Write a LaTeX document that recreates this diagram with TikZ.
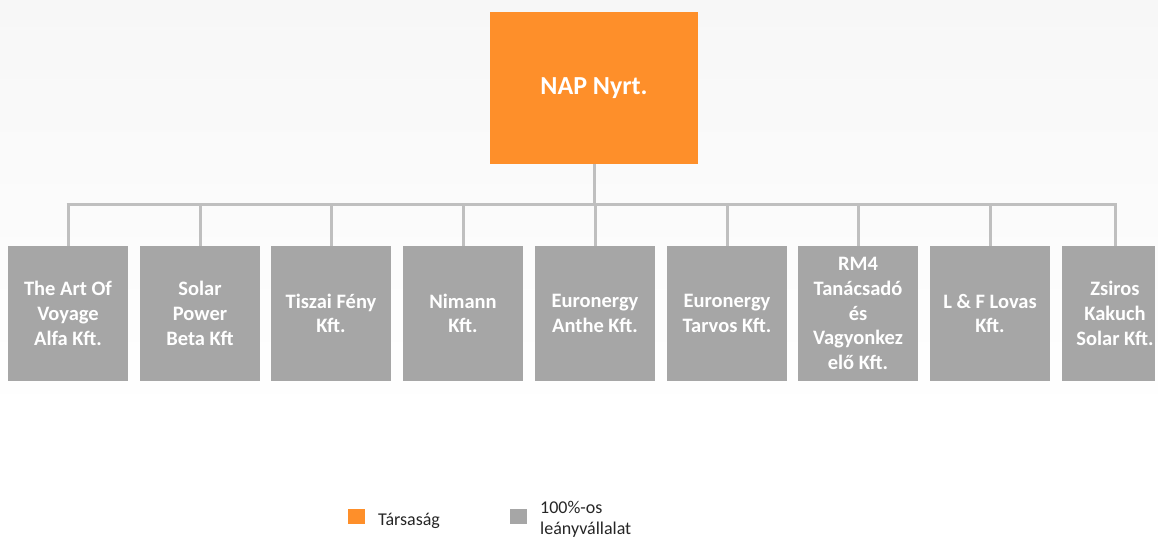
\documentclass[tikz,border=0pt]{standalone}
\usepackage{fontspec}
\setmainfont{Carlito}
\definecolor{naporange}{RGB}{254,143,42}
\definecolor{subgray}{RGB}{166,166,166}
\definecolor{linegray}{RGB}{191,191,191}
\definecolor{bgtop}{RGB}{247,247,247}
\begin{document}
\begin{tikzpicture}[x=1pt,y=-1pt,
  parentbox/.style={fill=naporange,minimum width=208pt,minimum height=152pt,inner sep=0pt,text=white,font=\fontsize{26}{31}\selectfont\bfseries},
  childbox/.style={fill=subgray,minimum width=120pt,minimum height=135pt,inner sep=0pt,text=white,align=center,font=\fontsize{20.5}{24.7}\selectfont\bfseries},
  childtext/.style={inner sep=0pt,text=white,align=center,font=\fontsize{20.5}{24.7}\selectfont\bfseries},
  conn/.style={draw=linegray,line width=3pt},
  legsq/.style={minimum width=17pt,minimum height=15pt,inner sep=0pt},
  legtext/.style={inner sep=0pt,anchor=base west,font=\fontsize{18}{21}\selectfont,text=black!85},
]
\useasboundingbox (0,0) rectangle (1158,537);
\shade[top color=bgtop,bottom color=white] (0,0) rectangle (1158,420);
% parent
\node[parentbox] (nap) at (594,88) {NAP Nyrt.};
% children
\node[childbox] (c1) at (68,313.5) {The Art Of\\Voyage\\Alfa Kft.};
\node[childbox] (c2) at (200,313.5) {Solar\\Power\\Beta Kft};
\node[childbox] (c3) at (331,313.5) {Tiszai Fény\\Kft.};
\node[childbox] (c4) at (463,313.5) {Nimann\\Kft.};
\node[childbox] (c5) at (595,313.5) {Euronergy\\Anthe Kft.};
\node[childbox] (c6) at (727,313.5) {Euronergy\\Tarvos Kft.};
\node[childbox] (c7) at (858,313.5) {RM4\\Tanácsadó\\és\\Vagyonkez\\elő Kft.};
\node[childbox] (c8) at (990,313.5) {L \& F Lovas\\Kft.};
\node[childbox,minimum width=93pt] (c9) at (1108.5,313.5) {};
\node[childtext] (t9) at (1115,313.5) {Zsiros\\Kakuch\\Solar Kft.};
% connectors
\coordinate (busL) at (68,205);
\coordinate (busR) at (1115,205);
\draw[conn] (nap.south) -- (nap.south |- busL);
\draw[conn] ([xshift=-1.5pt]busL) -- ([xshift=1.5pt]busR);
\foreach \c in {c1,c2,c3,c4,c5,c6,c7,c8}{
  \draw[conn] (\c.north |- busL) -- (\c.north);
}
\draw[conn] (busR) -- (busR |- c9.north);
% legend
\node[legsq,fill=naporange] (lo) at (356.5,516.5) {};
\node[legtext] (lot) at (378,525) {Társaság};
\node[legsq,fill=subgray] (lg) at (518,516.5) {};
\node[legtext] (lgt1) at (540,513) {100\%-os};
\node[legtext] (lgt2) at (540,534) {leányvállalat};
\end{tikzpicture}
\end{document}
